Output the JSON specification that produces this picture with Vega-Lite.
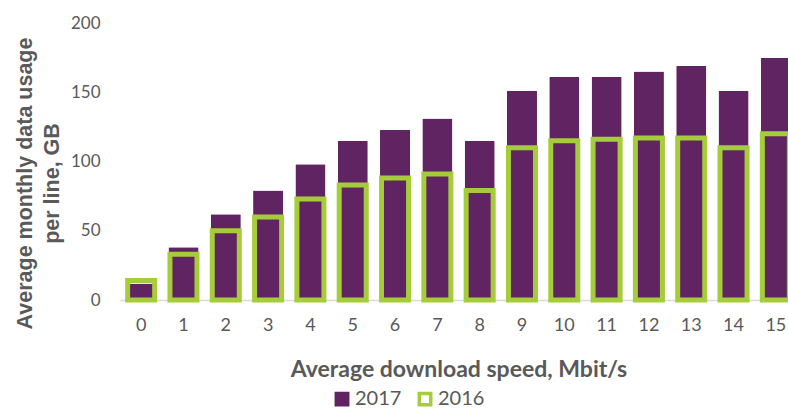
{
  "$schema": "https://vega.github.io/schema/vega-lite/v6.json",
  "width": 677,
  "height": 277,
  "autosize": "none",
  "padding": {"left": 120, "top": 23, "right": -9, "bottom": 109},
  "background": "white",
  "data": {
    "values": [
      {"speed": 0, "year": "2017", "usage": 12},
      {"speed": 1, "year": "2017", "usage": 38},
      {"speed": 2, "year": "2017", "usage": 62},
      {"speed": 3, "year": "2017", "usage": 79},
      {"speed": 4, "year": "2017", "usage": 98},
      {"speed": 5, "year": "2017", "usage": 115},
      {"speed": 6, "year": "2017", "usage": 123},
      {"speed": 7, "year": "2017", "usage": 131},
      {"speed": 8, "year": "2017", "usage": 115},
      {"speed": 9, "year": "2017", "usage": 151},
      {"speed": 10, "year": "2017", "usage": 161},
      {"speed": 11, "year": "2017", "usage": 161},
      {"speed": 12, "year": "2017", "usage": 165},
      {"speed": 13, "year": "2017", "usage": 169},
      {"speed": 14, "year": "2017", "usage": 151},
      {"speed": 15, "year": "2017", "usage": 175},
      {"speed": 0, "year": "2016", "usage": 14},
      {"speed": 1, "year": "2016", "usage": 33},
      {"speed": 2, "year": "2016", "usage": 50},
      {"speed": 3, "year": "2016", "usage": 60},
      {"speed": 4, "year": "2016", "usage": 73},
      {"speed": 5, "year": "2016", "usage": 83},
      {"speed": 6, "year": "2016", "usage": 88},
      {"speed": 7, "year": "2016", "usage": 91},
      {"speed": 8, "year": "2016", "usage": 79},
      {"speed": 9, "year": "2016", "usage": 110},
      {"speed": 10, "year": "2016", "usage": 115},
      {"speed": 11, "year": "2016", "usage": 116},
      {"speed": 12, "year": "2016", "usage": 117},
      {"speed": 13, "year": "2016", "usage": 117},
      {"speed": 14, "year": "2016", "usage": 110},
      {"speed": 15, "year": "2016", "usage": 120}
    ]
  },
  "encoding": {
    "x": {
      "field": "speed",
      "type": "ordinal",
      "scale": {"paddingInner": 0.29, "paddingOuter": 0.145},
      "axis": {
        "title": "Average download speed, Mbit/s",
        "labelAngle": 0,
        "labelFont": "Lato",
        "labelFontSize": 18,
        "labelColor": "#595959",
        "labelPadding": 16,
        "ticks": false,
        "domainColor": "#d9d9d9",
        "domainWidth": 1.5,
        "titleFont": "Lato",
        "titleFontSize": 23,
        "titleFontWeight": "bold",
        "titleColor": "#595959",
        "titlePadding": 24
      }
    },
    "y": {
      "field": "usage",
      "type": "quantitative",
      "scale": {"domain": [0, 200]},
      "axis": {
        "values": [0, 50, 100, 150, 200],
        "title": ["Average monthly data usage", "per line,  GB"],
        "domain": false,
        "ticks": false,
        "grid": false,
        "labelFont": "Lato",
        "labelFontSize": 17,
        "labelColor": "#595959",
        "labelPadding": 20,
        "titleFont": "Liberation Sans",
        "titleFontSize": 21.5,
        "titleFontWeight": "bold",
        "titleColor": "#595959",
        "titleX": -84,
        "titleY": 160,
        "titleAlign": "center",
        "titleLineHeight": 27
      }
    }
  },
  "layer": [
    {
      "transform": [{"filter": "datum.year == '2017'"}],
      "mark": {"type": "bar", "cornerRadius": 1},
      "encoding": {
        "fill": {
          "field": "year",
          "type": "nominal",
          "scale": {"domain": ["2017", "2016"], "range": ["#612462", "#ffffff"]},
          "legend": {
            "title": null,
            "orient": "none",
            "legendX": 212,
            "legendY": 366,
            "direction": "horizontal",
            "symbolType": "square",
            "symbolSize": 130,
            "symbolStrokeWidth": 3.5,
            "labelFont": "Lato",
            "labelFontSize": 20,
            "labelColor": "#595959",
            "labelOffset": 3,
            "columnPadding": 10
          }
        }
      }
    },
    {
      "transform": [{"filter": "datum.year == '2016'"}],
      "mark": {"type": "bar", "filled": false, "strokeWidth": 5, "width": {"band": 0.9}},
      "encoding": {
        "stroke": {
          "field": "year",
          "type": "nominal",
          "scale": {"domain": ["2017", "2016"], "range": ["#612462", "#a5cd39"]},
          "legend": {
            "title": null,
            "orient": "none",
            "legendX": 212,
            "legendY": 366,
            "direction": "horizontal",
            "symbolType": "square",
            "symbolSize": 130,
            "symbolStrokeWidth": 3.5,
            "labelFont": "Lato",
            "labelFontSize": 20,
            "labelColor": "#595959",
            "labelOffset": 3,
            "columnPadding": 10
          }
        }
      }
    }
  ],
  "config": {
    "view": {"stroke": null},
    "axis": {"grid": false}
  }
}
